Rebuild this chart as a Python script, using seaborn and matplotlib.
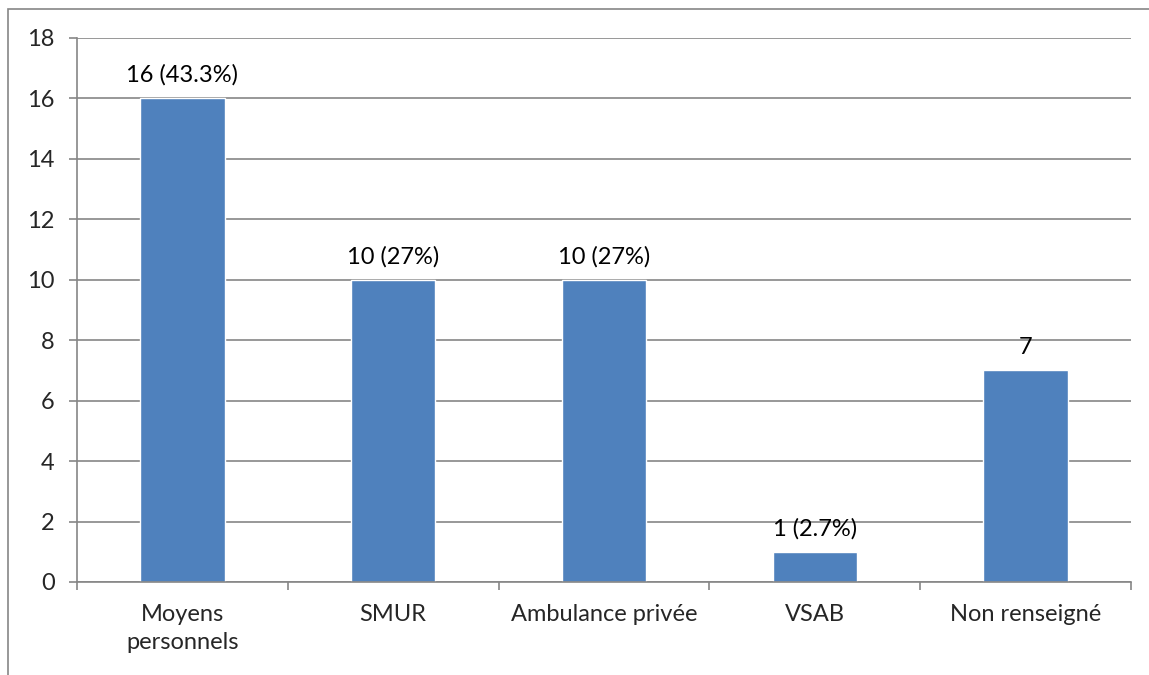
import numpy as np
import pandas as pd
import seaborn as sns
import matplotlib.pyplot as plt
from matplotlib.patches import Rectangle

categories = ["Moyens\npersonnels", "SMUR", "Ambulance privée", "VSAB", "Non renseigné"]
counts = [16, 10, 10, 1, 7]
bar_labels = ["16 (43.3%)", "10 (27%)", "10 (27%)", "1 (2.7%)", "7"]

df = pd.DataFrame({"mode": categories, "n": counts})

sns.set_style("white")
plt.rcParams['font.family'] = ['Lato', 'DejaVu Sans']

fig = plt.figure(figsize=(11.49, 6.75), dpi=100)
ax = fig.add_axes([77/1149, 1-582/675, (1131-77)/1149, (582-38)/675])

sns.barplot(data=df, x="mode", y="n", color="#4F81BD", saturation=1, width=0.4, ax=ax)
ax.bar_label(ax.containers[0], labels=bar_labels, padding=9, fontsize=17, color="#000000")

ax.set_ylim(0, 18)
ax.set_yticks(range(0, 19, 2))
ax.set_xlim(-0.5, 4.5)
ax.set_xlabel("")
ax.set_ylabel("")
ax.grid(axis="y", color="#868686", linewidth=1.2)
ax.set_axisbelow(True)

for side in ["top", "right"]:
    ax.spines[side].set_visible(False)
for side in ["left", "bottom"]:
    ax.spines[side].set_color("#868686")
    ax.spines[side].set_linewidth(1.2)

ax.tick_params(axis="y", left=True, length=6, width=1.2, color="#868686", labelsize=17, pad=10)
ax.tick_params(axis="x", bottom=False, labelsize=17, pad=12)
for lbl in ax.get_xticklabels():
    lbl.set_linespacing(1.45)
ax.set_xticks(np.arange(-0.5, 5, 1), minor=True)
ax.tick_params(axis="x", which="minor", bottom=True, length=6, width=1.2, color="#868686")

fig.add_artist(Rectangle((8/1149, -0.1), 1.2, 1 - 9/675 + 0.1, transform=fig.transFigure,
                         fill=False, edgecolor="#868686", linewidth=1.2))

fig.savefig("out.png", dpi=100)
